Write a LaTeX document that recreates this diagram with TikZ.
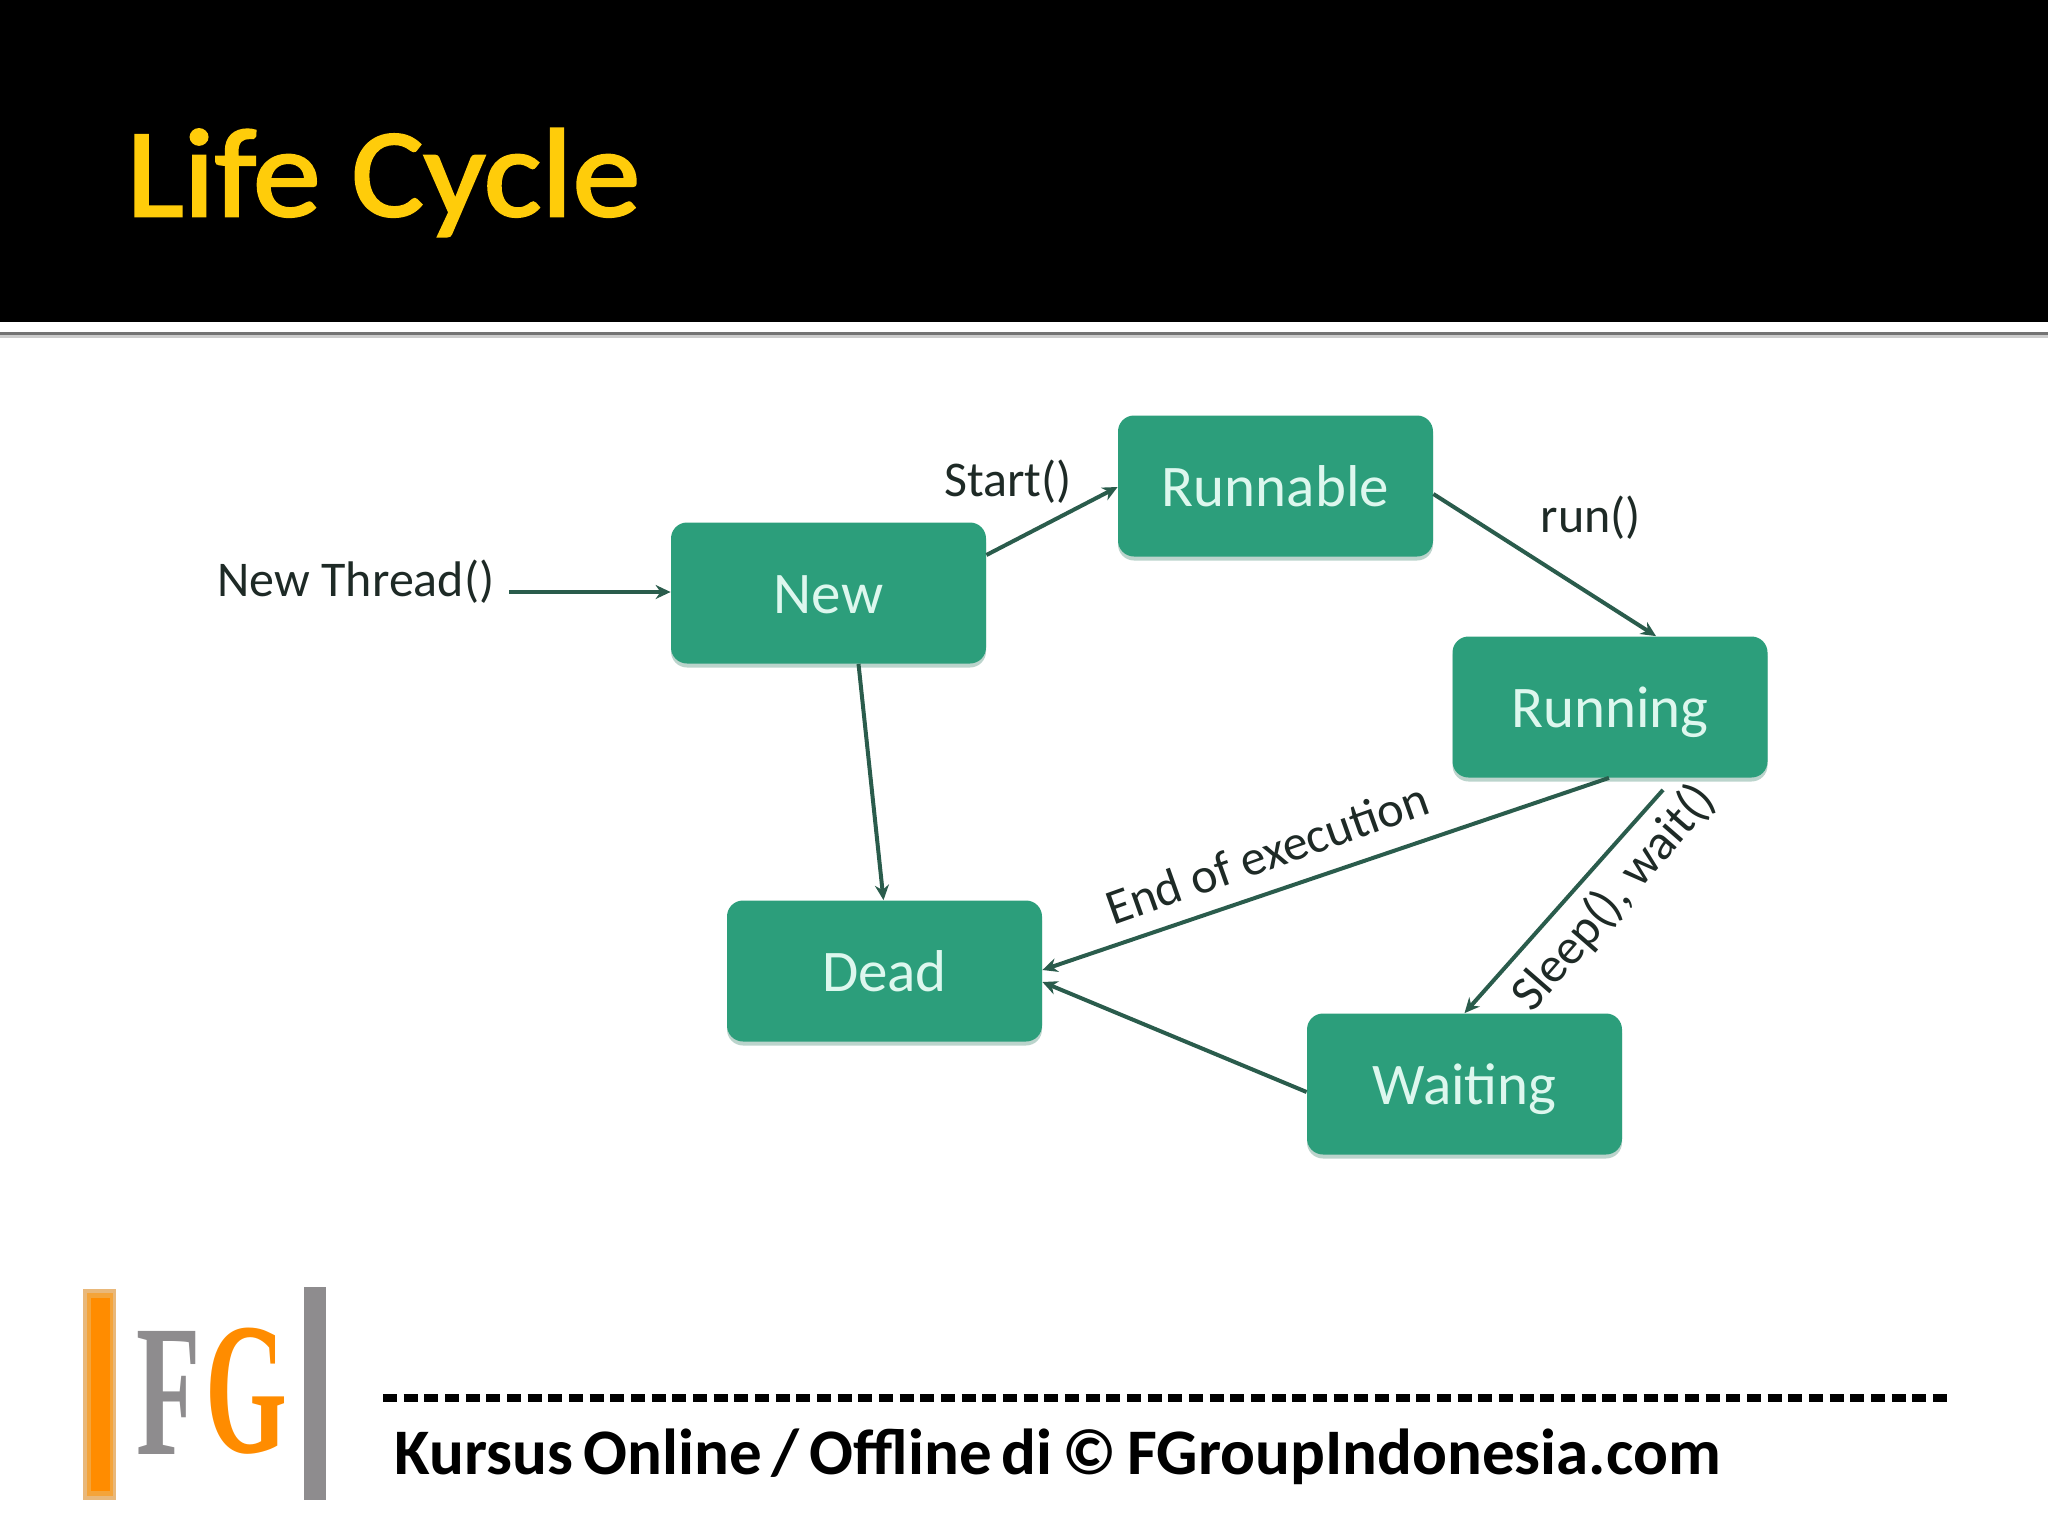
\documentclass[tikz,border=0pt]{standalone}
\usepackage{fontspec}
\setmainfont{Carlito}
\newfontfamily\logofont{Liberation Serif}
\newfontfamily\titlefont[FakeStretch=1.08,FakeBold=2]{Carlito}
\usetikzlibrary{shadows,arrows.meta}
\definecolor{boxgreen}{HTML}{2C9E7B}
\definecolor{boxtext}{HTML}{DDF7EE}
\definecolor{arrowgreen}{HTML}{2A5C4C}
\definecolor{labelink}{HTML}{1E2A26}
\definecolor{titlegold}{HTML}{FFCC0A}
\definecolor{logoorange}{HTML}{FF8C00}
\definecolor{logosoft}{HTML}{E9B87A}
\definecolor{logomid}{HTML}{F4A43A}
\definecolor{logogray}{HTML}{8E8C8E}
\tikzset{
  statebox/.style={draw=none,fill=boxgreen,rounded corners=8pt,minimum width=157.5pt,minimum height=70.5pt,inner sep=0pt,
    text=boxtext,font=\fontsize{29.5}{32}\selectfont,text height=20.5pt,text depth=0pt,
    drop shadow={shadow xshift=0pt,shadow yshift=-2pt,fill=black!30!boxgreen,opacity=.3}},
  flow/.style={draw=arrowgreen,line width=2pt,-{Stealth[length=7.5pt,width=7pt]}},
  edgelabel/.style={text=labelink,inner sep=0pt,font=\fontsize{25}{28}\selectfont},
  logoletter/.style={inner sep=0pt,anchor=south west,font=\logofont\bfseries\fontsize{94}{94}\selectfont}
}
\begin{document}
\begin{tikzpicture}[x=0.5pt,y=-0.5pt]
\useasboundingbox (0,0) rectangle (2048,1536);
% header
\fill[black] (0,0) rectangle (2048,322);
\fill[black!55] (0,332) rectangle (2048,335);
\fill[black!20] (0,335) rectangle (2048,338);
\node[anchor=base west,inner sep=0pt,text=titlegold,font=\titlefont\fontsize{63}{70}\selectfont] (title) at (126,216) {Life Cycle};
% states
\node[statebox] (new) at (828.5,593) {New};
\node[statebox] (runnable) at (1275.5,486) {Runnable};
\node[statebox] (running) at (1610,707) {Running};
\node[statebox] (dead) at (884.5,971) {Dead};
\node[statebox] (waiting) at (1464.5,1084) {Waiting};
% labels
\node[edgelabel] (lnew) at (356,582) {New Thread()};
\node[edgelabel] (lstart) at (1008,482) {Start()};
\node[edgelabel] (lrun) at (1591,518) {run()};
\node[edgelabel,rotate=19.5] (lend) at (1267,853) {End of execution};
\node[edgelabel,rotate=49] (lsleep) at (1614,898) {Sleep(), wait()};
% connectors
\coordinate (nt) at (509,592);
\draw[flow] (nt) -- ([yshift=0.5pt]new.west);
\draw[flow] ([yshift=19pt]new.east) -- ([yshift=-0.5pt]runnable.west);
\draw[flow] ([yshift=-4pt]runnable.east) -- ([xshift=23pt]running.north);
\draw[flow] ([xshift=-0.5pt]running.south) -- ([yshift=0.5pt]dead.east);
\draw[flow] ([xshift=26.5pt,yshift=-6pt]running.south) -- (waiting.north);
\draw[flow] ([yshift=-4pt]waiting.west) -- ([yshift=-5.5pt]dead.east);
\draw[flow] ([xshift=15pt]new.south) -- ([xshift=-0.5pt]dead.north);
% logo
\fill[logosoft] (83,1289) rectangle (116,1500);
\fill[logomid] (87,1293) rectangle (113,1496);
\fill[logoorange] (91,1298) rectangle (110,1491);
\fill[logogray] (304,1287) rectangle (326,1500);
\node[logoletter,text=logogray,xscale=.56,transform shape] (logof) at (136,1455) {F};
\node[logoletter,text=logoorange,xscale=.56,transform shape] (logog) at (205,1455) {G};
% footer
\draw[black,line width=4pt,dash pattern=on 7pt off 3.333pt] (383,1398) -- (1947,1398);
\node[anchor=base west,inner sep=0pt,text=black,font=\bfseries\fontsize{32.5}{36}\selectfont] (foot) at (394,1474) {\spaceskip=.155em Kursus Online / Offline di © FGroupIndonesia.com};
\end{tikzpicture}
\end{document}
